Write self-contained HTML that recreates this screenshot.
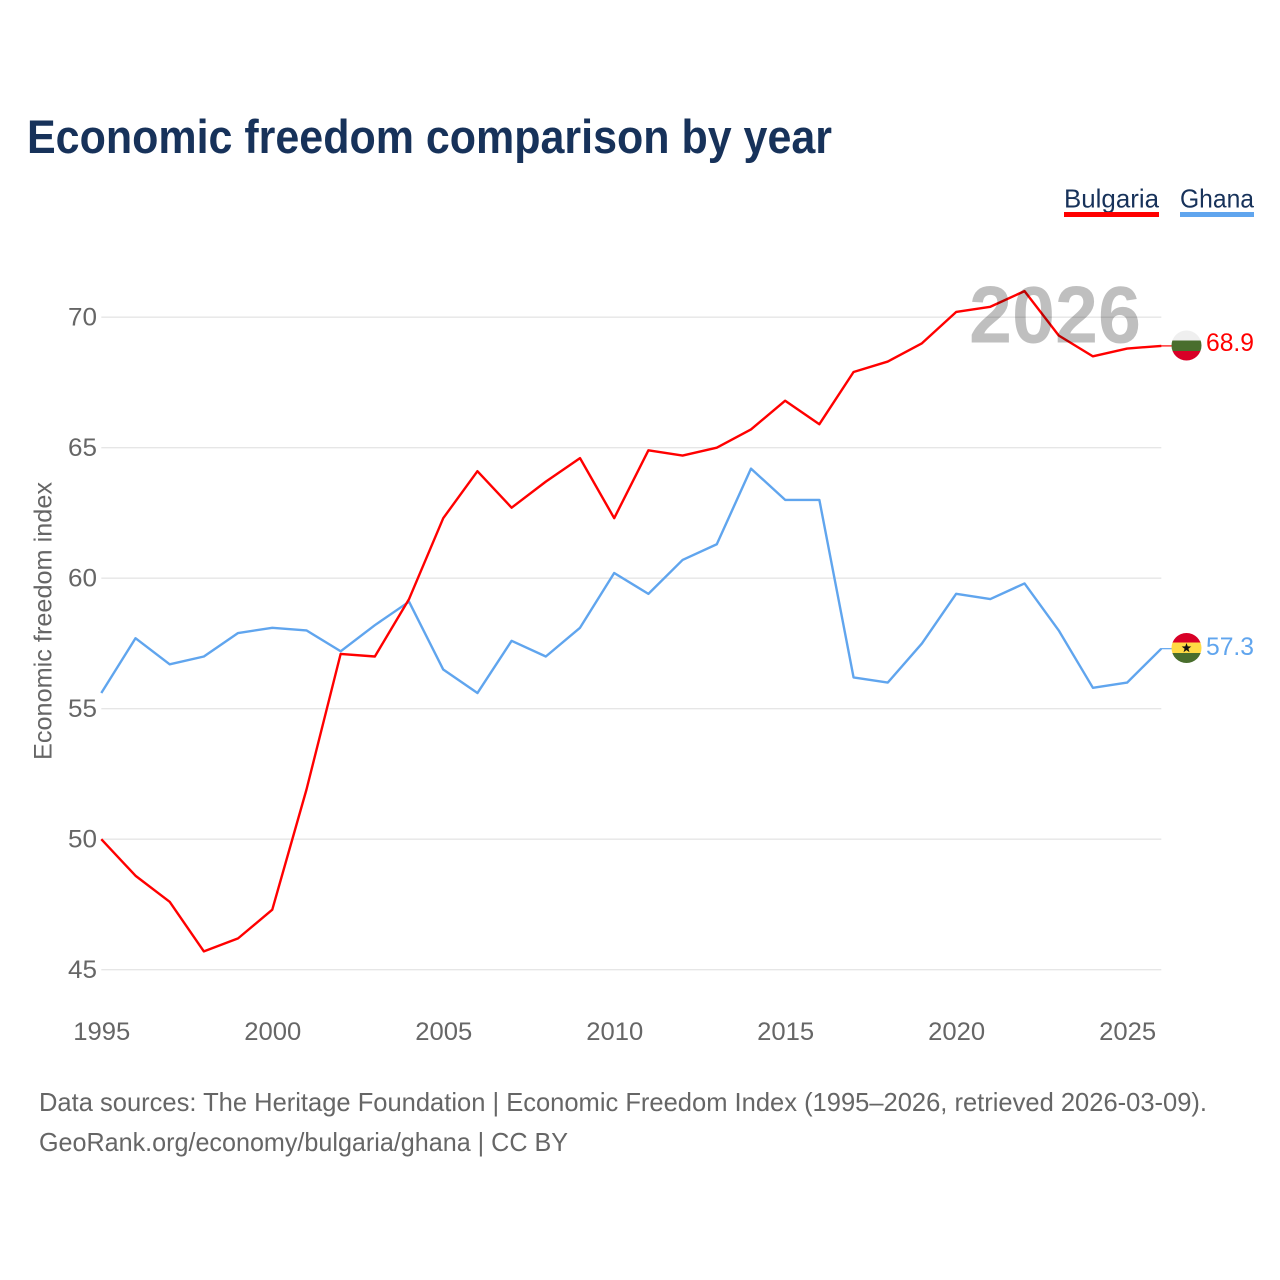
<!DOCTYPE html>
<html lang="en">
<head>
<meta charset="utf-8">
<title>Economic freedom comparison by year</title>
<style>
html,body{margin:0;padding:0;background:#fff;width:1280px;height:1280px;overflow:hidden}
svg{display:block}
text{font-family:"Liberation Sans",sans-serif}
</style>
</head>
<body>
<svg id="chart" xmlns="http://www.w3.org/2000/svg" width="1280" height="1280" viewBox="0 0 1280 1280">
  <defs>
    <clipPath id="clip-bg"><circle cx="1186.5" cy="345.5" r="15"/></clipPath>
    <clipPath id="clip-gh"><circle cx="1186.5" cy="648" r="15"/></clipPath>
  </defs>
  <rect x="0" y="0" width="1280" height="1280" fill="#fff"/>
  <text x="27" y="153" font-size="47" font-weight="700" fill="#17325a" textLength="805" lengthAdjust="spacingAndGlyphs">Economic freedom comparison by year</text>

  <g>
    <g>
      <text x="1064" y="207.5" font-size="26" fill="#17325a" textLength="95" lengthAdjust="spacingAndGlyphs">Bulgaria</text>
      <rect x="1064" y="212" width="95" height="5" fill="#ff0000"/>
    </g>
    <g>
      <text x="1180" y="207.5" font-size="26" fill="#17325a" textLength="74" lengthAdjust="spacingAndGlyphs">Ghana</text>
      <rect x="1180" y="212" width="74" height="5" fill="#60a5ee"/>
    </g>
  </g>

  <g id="grid"></g>
  <g id="yticks"></g>
  <g id="xticks"></g>

  <text transform="translate(51.5,760) rotate(-90)" x="0" y="0" font-size="25" fill="#666" textLength="278" lengthAdjust="spacingAndGlyphs">Economic freedom index</text>

  <g id="series"></g>

  <text x="969" y="342.5" font-size="81" font-weight="700" fill="#000" fill-opacity="0.25" textLength="172" lengthAdjust="spacingAndGlyphs">2026</text>

  <g clip-path="url(#clip-bg)">
    <rect x="1170" y="328" width="34" height="12.5" fill="#efefef"/>
    <rect x="1170" y="340.5" width="34" height="10.5" fill="#496e2d"/>
    <rect x="1170" y="351" width="34" height="12" fill="#d80027"/>
  </g>
  <g clip-path="url(#clip-gh)">
    <rect x="1170" y="631" width="34" height="11.5" fill="#d80027"/>
    <rect x="1170" y="642.5" width="34" height="10.5" fill="#ffda44"/>
    <rect x="1170" y="653" width="34" height="12" fill="#496e2d"/>
    <polygon points="1186.5,643 1187.7,646.4 1191.3,646.5 1188.4,648.7 1189.5,652.2 1186.5,650.1 1183.5,652.2 1184.6,648.7 1181.7,646.5 1185.3,646.4" fill="#111"/>
  </g>

  <text id="end-bg" x="1206" y="351" font-size="25" fill="#ff0000" textLength="48" lengthAdjust="spacingAndGlyphs"></text>
  <text id="end-gh" x="1206" y="655" font-size="25" fill="#60a5ee" textLength="48" lengthAdjust="spacingAndGlyphs"></text>

  <text x="39" y="1111" font-size="26" fill="#666" textLength="1168" lengthAdjust="spacingAndGlyphs">Data sources: The Heritage Foundation | Economic Freedom Index (1995–2026, retrieved 2026-03-09).</text>
  <text x="39" y="1151" font-size="26" fill="#666" textLength="529" lengthAdjust="spacingAndGlyphs">GeoRank.org/economy/bulgaria/ghana | CC BY</text>
</svg>
<script>
const years = [1995,1996,1997,1998,1999,2000,2001,2002,2003,2004,2005,2006,2007,2008,2009,2010,2011,2012,2013,2014,2015,2016,2017,2018,2019,2020,2021,2022,2023,2024,2025,2026];
const bulgaria = [50.0,48.6,47.6,45.7,46.2,47.3,51.9,57.1,57.0,59.2,62.3,64.1,62.7,63.7,64.6,62.3,64.9,64.7,65.0,65.7,66.8,65.9,67.9,68.3,69.0,70.2,70.4,71.0,69.3,68.5,68.8,68.9];
const ghana = [55.6,57.7,56.7,57.0,57.9,58.1,58.0,57.2,58.2,59.1,56.5,55.6,57.6,57.0,58.1,60.2,59.4,60.7,61.3,64.2,63.0,63.0,56.2,56.0,57.5,59.4,59.2,59.8,58.0,55.8,56.0,57.3];
const yTicks = [45,50,55,60,65,70];
const xTicks = [1995,2000,2005,2010,2015,2020,2025];

const NS = 'http://www.w3.org/2000/svg';
const xScale = function (year) { return 101.3 + (year - 1995) * (1161.3 - 101.3) / (2026 - 1995); };
const yScale = function (value) { return 969.7 - (value - 45) * (969.7 - 317.2) / (70 - 45); };
const make = function (tag, parentId) {
  const el = document.createElementNS(NS, tag);
  document.getElementById(parentId).appendChild(el);
  return el;
};

yTicks.forEach(function (tick) {
  const line = make('line', 'grid');
  
  
  line.setAttribute('x1', 101.3);
  line.setAttribute('x2', 1161.3);
  line.setAttribute('y1', yScale(tick));
  line.setAttribute('y2', yScale(tick));
  line.setAttribute('stroke', '#e6e6e6');
  line.setAttribute('stroke-width', 1.4);

  const label = make('text', 'yticks');
  
  
  label.setAttribute('x', 68);
  label.setAttribute('y', yScale(tick) + 8.3);
  label.setAttribute('font-size', 25);
  label.setAttribute('fill', '#666');
  label.setAttribute('textLength', 29);
  label.setAttribute('lengthAdjust', 'spacingAndGlyphs');
  label.textContent = tick;
});

xTicks.forEach(function (tick) {
  const label = make('text', 'xticks');
  
  
  label.setAttribute('x', xScale(tick) - 28);
  label.setAttribute('y', 1040);
  label.setAttribute('font-size', 25);
  label.setAttribute('fill', '#666');
  label.setAttribute('textLength', 57);
  label.setAttribute('lengthAdjust', 'spacingAndGlyphs');
  label.textContent = tick;
});

const pointsFor = function (values) {
  return values.map(function (v, i) { return xScale(years[i]).toFixed(2) + ',' + yScale(v).toFixed(2); }).join(' ');
};

const ghanaLine = make('polyline', 'series');


ghanaLine.setAttribute('points', pointsFor(ghana));
ghanaLine.setAttribute('fill', 'none');
ghanaLine.setAttribute('stroke', '#60a5ee');
ghanaLine.setAttribute('stroke-width', 2.4);
ghanaLine.setAttribute('stroke-linejoin', 'round');

const bulgariaLine = make('polyline', 'series');


bulgariaLine.setAttribute('points', pointsFor(bulgaria));
bulgariaLine.setAttribute('fill', 'none');
bulgariaLine.setAttribute('stroke', '#ff0000');
bulgariaLine.setAttribute('stroke-width', 2.4);
bulgariaLine.setAttribute('stroke-linejoin', 'round');

const bulgariaLeader = make('line', 'series');


bulgariaLeader.setAttribute('x1', 1161);
bulgariaLeader.setAttribute('x2', 1172);
bulgariaLeader.setAttribute('y1', yScale(bulgaria[bulgaria.length - 1]));
bulgariaLeader.setAttribute('y2', yScale(bulgaria[bulgaria.length - 1]));
bulgariaLeader.setAttribute('stroke', '#ff0000');
bulgariaLeader.setAttribute('stroke-width', 1.2);

const ghanaLeader = make('line', 'series');


ghanaLeader.setAttribute('x1', 1161);
ghanaLeader.setAttribute('x2', 1172);
ghanaLeader.setAttribute('y1', yScale(ghana[ghana.length - 1]));
ghanaLeader.setAttribute('y2', yScale(ghana[ghana.length - 1]));
ghanaLeader.setAttribute('stroke', '#60a5ee');
ghanaLeader.setAttribute('stroke-width', 1.2);

document.getElementById('end-bg').textContent = bulgaria[bulgaria.length - 1].toFixed(1);
document.getElementById('end-gh').textContent = ghana[ghana.length - 1].toFixed(1);
</script>
</body>
</html>
